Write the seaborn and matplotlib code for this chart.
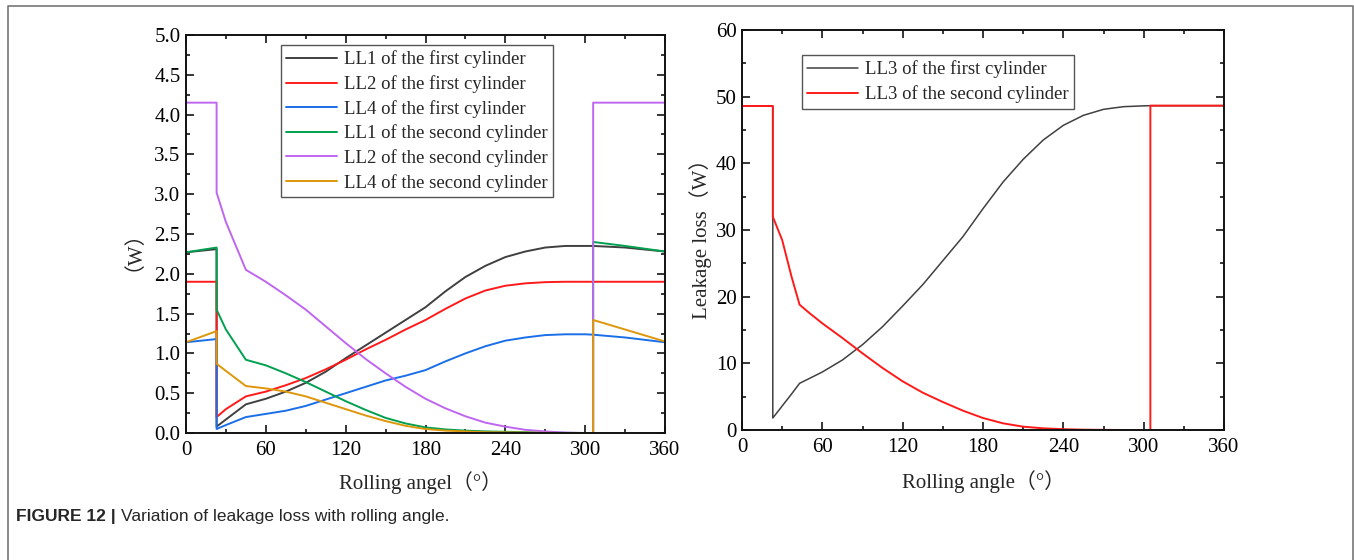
import matplotlib
matplotlib.use("Agg")
import matplotlib.pyplot as plt
import seaborn as sns
import pandas as pd
from matplotlib.ticker import MultipleLocator, FormatStrFormatter
from matplotlib.lines import Line2D

# ---- data ----
# left panel: rolling angle (deg), repeated angles mark the vertical jumps
angle_left = [0, 23, 23, 30, 45, 60, 75, 90, 105, 120, 135, 150, 165, 180, 195,
              210, 225, 240, 255, 270, 285, 300, 306, 306, 330, 360]
ll1_first = [2.27, 2.31, 0.08, 0.17, 0.36, 0.43, 0.52, 0.63, 0.77, 0.94, 1.10, 1.26, 1.42, 1.58, 1.78,
             1.96, 2.10, 2.21, 2.28, 2.33, 2.35, 2.35, 2.35, 2.35, 2.33, 2.28]
ll2_first = [1.90, 1.90, 0.20, 0.30, 0.46, 0.52, 0.60, 0.69, 0.80, 0.92, 1.05, 1.17, 1.30, 1.42, 1.56,
             1.69, 1.79, 1.85, 1.88, 1.895, 1.90, 1.90, 1.90, 1.90, 1.90, 1.90]
ll4_first = [1.14, 1.18, 0.05, 0.10, 0.20, 0.24, 0.28, 0.34, 0.42, 0.50, 0.58, 0.66, 0.72, 0.79, 0.90,
             1.00, 1.09, 1.16, 1.20, 1.23, 1.24, 1.24, 1.235, 1.235, 1.20, 1.14]
ll1_second = [2.27, 2.33, 1.55, 1.30, 0.92, 0.85, 0.75, 0.64, 0.52, 0.40, 0.29, 0.19, 0.12, 0.07, 0.045,
              0.03, 0.02, 0.015, 0.01, 0.005, 0.002, 0.0, 0.0, 2.40, 2.35, 2.28]
ll2_second = [4.15, 4.15, 3.02, 2.65, 2.05, 1.90, 1.73, 1.55, 1.34, 1.13, 0.93, 0.75, 0.58, 0.43, 0.31,
              0.21, 0.13, 0.08, 0.04, 0.02, 0.005, 0.0, 0.0, 4.15, 4.15, 4.15]
ll4_second = [1.14, 1.28, 0.87, 0.78, 0.59, 0.56, 0.52, 0.46, 0.38, 0.30, 0.22, 0.15, 0.09, 0.05, 0.03,
              0.02, 0.01, 0.008, 0.005, 0.002, 0.0, 0.0, 0.0, 1.42, 1.30, 1.15]

# right panel
angle_right = [0, 23, 23, 30, 37, 43, 50, 60, 75, 90, 105, 120, 135, 150, 165, 180,
               195, 210, 225, 240, 255, 270, 285, 300, 305, 305, 330, 360]
ll3_first = [48.6, 48.6, 1.8, 3.6, 5.4, 7.0, 7.7, 8.7, 10.5, 12.8, 15.5, 18.6, 21.8, 25.4, 29.0, 33.2,
             37.2, 40.6, 43.5, 45.7, 47.2, 48.1, 48.5, 48.62, 48.65, 48.65, 48.65, 48.65]
ll3_second = [48.6, 48.6, 32.0, 28.5, 23.0, 18.8, 17.6, 16.0, 13.8, 11.5, 9.3, 7.3, 5.6, 4.2, 2.9, 1.8,
              1.0, 0.5, 0.25, 0.12, 0.05, 0.02, 0.0, 0.0, 0.0, 48.65, 48.65, 48.65]

left_series = [
    ("LL1 of the first cylinder", ll1_first, "#404040"),
    ("LL2 of the first cylinder", ll2_first, "#ff1a1a"),
    ("LL4 of the first cylinder", ll4_first, "#1a6fe8"),
    ("LL1 of the second cylinder", ll1_second, "#00a050"),
    ("LL2 of the second cylinder", ll2_second, "#bf66f0"),
    ("LL4 of the second cylinder", ll4_second, "#de960a"),
]
right_series = [
    ("LL3 of the first cylinder", ll3_first, "#404040"),
    ("LL3 of the second cylinder", ll3_second, "#ff1a1a"),
]

sns.set_style("ticks")
plt.rcParams["font.family"] = ["Liberation Serif", "Noto Sans CJK SC"]

W, H = 1354, 560
fig = plt.figure(figsize=(W / 100, H / 100), dpi=100)


def box(x0, y0, x1, y1):
    # pixel box (top-left origin) -> figure fraction
    return [x0 / W, 1 - y1 / H, (x1 - x0) / W, (y1 - y0) / H]


ax1 = fig.add_axes(box(186, 35, 665, 433))
ax2 = fig.add_axes(box(742, 30, 1224, 430))

for name, vals, col in left_series:
    df = pd.DataFrame({"angle": angle_left, "loss": vals})
    sns.lineplot(data=df, x="angle", y="loss", ax=ax1, color=col, label=name,
                 estimator=None, sort=False, linewidth=1.4)

for name, vals, col in right_series:
    df = pd.DataFrame({"angle": angle_right, "loss": vals})
    sns.lineplot(data=df, x="angle", y="loss", ax=ax2, color=col, label=name,
                 estimator=None, sort=False, linewidth=1.4 if col != "#404040" else 1.1)


def style_axis(ax, ymax, ymajor, yminor):
    ax.set_xlim(0, 360)
    ax.set_ylim(0, ymax)
    ax.xaxis.set_major_locator(MultipleLocator(60))
    ax.xaxis.set_minor_locator(MultipleLocator(30))
    ax.yaxis.set_major_locator(MultipleLocator(ymajor))
    ax.yaxis.set_minor_locator(MultipleLocator(yminor))
    ax.tick_params(which="both", direction="in", top=True, right=True,
                   width=1.1, colors="black", labelsize=15)
    ax.tick_params(which="major", length=5.5)
    ax.tick_params(which="minor", length=3.2)
    ax.tick_params(axis="x", which="major", pad=6)
    ax.tick_params(axis="y", which="major", pad=4)
    for s in ax.spines.values():
        s.set_linewidth(1.4)
        s.set_color("#111111")


style_axis(ax1, 5.0, 0.5, 0.25)
ax1.yaxis.set_major_formatter(FormatStrFormatter("%.1f"))
style_axis(ax2, 60, 10, 5)

ax1.set_xlabel("Rolling angel（°）", fontsize=15)
ax1.set_ylabel("（W）", fontsize=15)
ax2.set_xlabel("Rolling angle（°）", fontsize=15)
ax2.set_ylabel("Leakage loss（W）", fontsize=15)
ax1.xaxis.set_label_coords(0.49, -0.097)
ax1.yaxis.set_label_coords(-0.11, 0.485)
ax2.xaxis.set_label_coords(0.5, -0.1)
ax2.yaxis.set_label_coords(-0.062, 0.49)

leg_kw = dict(loc="upper left", borderaxespad=0, fontsize=13.5, frameon=True,
              fancybox=False, handlelength=2.7, handletextpad=0.35,
              labelspacing=0.36, borderpad=0.3)
leg1 = ax1.legend(bbox_to_anchor=(0.198, 0.975), **leg_kw)
leg2 = ax2.legend(bbox_to_anchor=(0.124, 0.9375), **leg_kw)
for leg in (leg1, leg2):
    leg.get_frame().set_edgecolor("#555555")
    leg.get_frame().set_linewidth(1.0)
    leg.get_frame().set_alpha(1)

# outer frame of the figure panel
fig.add_artist(Line2D([8 / W, 8 / W, 1353 / W, 1353 / W], [0, 1 - 6 / H, 1 - 6 / H, 0],
                      transform=fig.transFigure, color="#777777", linewidth=1.2))

# caption
cap_font = ["Liberation Sans"]
t1 = fig.text(16 / W, 1 - 517 / H, "FIGURE 12 |", fontsize=12.5, fontweight="bold",
              family=cap_font, va="center", ha="left")
ax1.annotate("Variation of leakage loss with rolling angle.", xy=(1, 0.5), xycoords=t1,
             xytext=(4, 0), textcoords="offset points", va="center", ha="left",
             fontsize=12.5, family=cap_font, annotation_clip=False)

fig.savefig("out.png", dpi=100)
